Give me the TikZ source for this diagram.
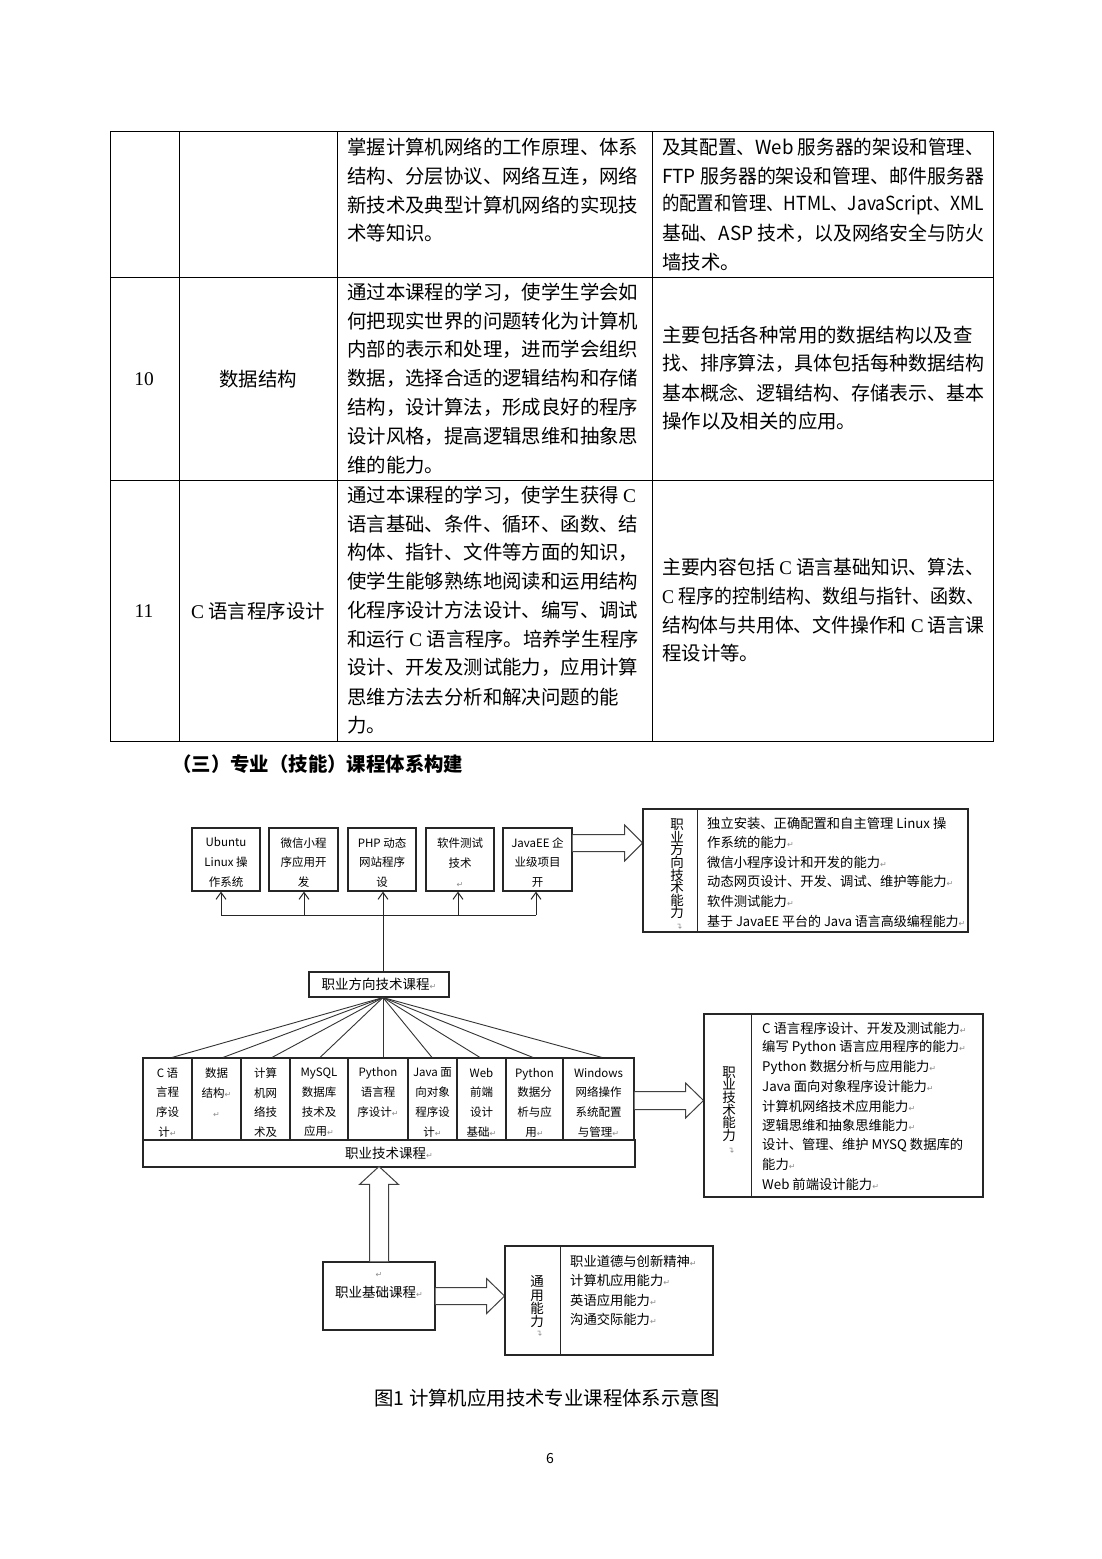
\documentclass[tikz,border=0pt]{standalone}
\usepackage{fontspec}
\usepackage{graphicx}
\setmainfont{Noto Sans CJK SC}
\newfontfamily\lserif{Liberation Serif}
\newfontfamily\dejavu{DejaVu Sans}
\usetikzlibrary{arrows.meta}
\newsavebox\fitbox
\newcommand\fitline[2]{\sbox\fitbox{#2}\ifdim\wd\fitbox>#1\relax\resizebox{#1}{\height}{\usebox\fitbox}\else\usebox\fitbox\fi}
\newcommand\rmk{{\dejavu\fontsize{8}{8}\selectfont\color{black!45}↵}}
\newcommand\tightlines{\setlength{\lineskiplimit}{-100pt}\setlength{\lineskip}{0pt}}
\begin{document}
\begin{tikzpicture}[x=1pt,y=-1pt,
  tl/.style={draw=black,line width=0.95pt},
  ttxt/.style={anchor=west,inner sep=0pt,font=\fontsize{19.4}{19.4}\selectfont},
  tctr/.style={anchor=center,inner sep=0pt,font=\fontsize{19.4}{19.4}\selectfont},
  box/.style={draw=black!85,line width=1.1pt,inner sep=0pt},
  sm/.style={inner sep=0pt,align=center,font=\fontsize{11.5}{19.7}\selectfont},
  captxt/.style={anchor=west,inner sep=0pt,font=\fontsize{13.3}{13.3}\selectfont},
  vtxt/.style={inner sep=0pt,align=center,font=\fontsize{13.5}{12.6}\selectfont\tightlines},
  arr/.style={draw=black!85,line width=1pt,-{Straight Barb[length=7pt,width=10pt]}},
  ln/.style={draw=black!85,line width=1pt},
  fan/.style={draw=black!80,line width=0.9pt},
  blk/.style={draw=black!75,line width=1pt,fill=white,line join=miter}]
\useasboundingbox[fill=white] (0,0) rectangle (1102,1559);

% ---------------- table ----------------
\draw[tl] (110,131) rectangle (993,741);
\foreach \yy in {277,480} \draw[tl] (110,\yy) -- (993,\yy);
\foreach \xx in {179,337,652} \draw[tl] (\xx,131) -- (\xx,741);

\foreach \t [count=\i] in {
 {掌握计算机网络的工作原理、体系},
 {结构、分层协议、网络互连，网络},
 {新技术及典型计算机网络的实现技},
 {术等知识。}}
 \node[ttxt] (ra-\i) at (347,{147+28.8*(\i-1)}) {\fitline{292pt}{\t}};
\foreach \t [count=\i] in {
 {及其配置、Web 服务器的架设和管理、},
 {FTP 服务器的架设和管理、邮件服务器},
 {的配置和管理、HTML、JavaScript、XML},
 {基础、ASP 技术，以及网络安全与防火},
 {墙技术。}}
 \node[ttxt] (rb-\i) at (662,{147+28.8*(\i-1)}) {\fitline{322pt}{\t}};

\node[tctr,font=\lserif\fontsize{19.4}{19.4}\selectfont] (n10) at (144,379) {10};
\node[tctr] (s10) at (258,379) {数据结构};
\foreach \t [count=\i] in {
 {通过本课程的学习，使学生学会如},
 {何把现实世界的问题转化为计算机},
 {内部的表示和处理，进而学会组织},
 {数据，选择合适的逻辑结构和存储},
 {结构，设计算法，形成良好的程序},
 {设计风格，提高逻辑思维和抽象思},
 {维的能力。}}
 \node[ttxt] (rc-\i) at (347,{292+28.8*(\i-1)}) {\fitline{292pt}{\t}};
\foreach \t [count=\i] in {
 {主要包括各种常用的数据结构以及查},
 {找、排序算法，具体包括每种数据结构},
 {基本概念、逻辑结构、存储表示、基本},
 {操作以及相关的应用。}}
 \node[ttxt] (rd-\i) at (662,{335+28.8*(\i-1)}) {\fitline{322pt}{\t}};

\node[tctr,font=\lserif\fontsize{19.4}{19.4}\selectfont] (n11) at (144,611) {11};
\node[tctr] (s11) at (258,611) {{\lserif C} 语言程序设计};
\foreach \t [count=\i] in {
 {通过本课程的学习，使学生获得 {\lserif C}},
 {语言基础、条件、循环、函数、结},
 {构体、指针、文件等方面的知识，},
 {使学生能够熟练地阅读和运用结构},
 {化程序设计方法设计、编写、调试},
 {和运行 {\lserif C} 语言程序。培养学生程序},
 {设计、开发及测试能力，应用计算},
 {思维方法去分析和解决问题的能},
 {力。}}
 \node[ttxt] (re-\i) at (347,{495+28.8*(\i-1)}) {\fitline{292pt}{\t}};
\foreach \t [count=\i] in {
 {主要内容包括 {\lserif C} 语言基础知识、算法、},
 {{\lserif C} 程序的控制结构、数组与指针、函数、},
 {结构体与共用体、文件操作和 {\lserif C} 语言课},
 {程设计等。}}
 \node[ttxt] (rf-\i) at (662,{567+28.8*(\i-1)}) {\fitline{322pt}{\t}};

\node[ttxt,font=\bfseries\fontsize{19.4}{19.4}\selectfont] (head) at (172,764) {（三）专业（技能）课程体系构建};

% ---------------- diagram: top ----------------
\node[box,minimum width=68pt,minimum height=63pt] (u1) at (226,859.5) {};
\node[box,minimum width=69pt,minimum height=63pt] (u2) at (303.5,859.5) {};
\node[box,minimum width=68pt,minimum height=63pt] (u3) at (382,859.5) {};
\node[box,minimum width=68pt,minimum height=63pt] (u4) at (460,859.5) {};
\node[box,minimum width=69pt,minimum height=63pt] (u5) at (537.5,859.5) {};
\node[sm] (u1t) at (226,862.5) {Ubuntu\\Linux 操\\作系统};
\node[sm] (u2t) at (303.5,862.5) {微信小程\\序应用开\\发};
\node[sm] (u3t) at (382,862.5) {PHP 动态\\网站程序\\设};
\node[sm] (u4t) at (460,862.5) {软件测试\\技术\\\rmk};
\node[sm] (u5t) at (537.5,862.5) {JavaEE 企\\业级项目\\开};

\node[box,minimum width=140pt,minimum height=25pt,font=\fontsize{13.5}{13.5}\selectfont] (vb) at (379,984.5) {职业方向技术课程\rmk};

\coordinate (a1) at (221,915);
\coordinate (a2) at (304,915);
\coordinate (a3) at (383,915);
\coordinate (a4) at (458,915);
\coordinate (a5) at (536,915);
\draw[ln] (a1) -- (a5);
\draw[ln] ([xshift=4pt]vb.north) -- (a3);
\foreach \k in {1,...,5} \draw[arr] (a\k) -- (a\k |- u1.south);

\draw[blk] ([yshift=25pt]u5.east) -- ++(52,0) -- ++(0,-9.5) -- ++(18,18) -- ++(-18,18) -- ++(0,-9.5) -- ++(-52,0);

\node[box,minimum width=325pt,minimum height=123pt] (dr) at (805.5,870.5) {};
\draw[box] ([xshift=55pt]dr.north west) -- ([xshift=55pt]dr.south west);
\node[vtxt] (drv) at (677,869) {职\\业\\方\\向\\技\\术\\能\\力};
\node[inner sep=0pt,rotate=90] (drm) at (680,926) {\rmk};
\foreach \t [count=\i] in {
 {独立安装、正确配置和自主管理 Linux 操},
 {作系统的能力\rmk},
 {微信小程序设计和开发的能力\rmk},
 {动态网页设计、开发、调试、维护等能力\rmk},
 {软件测试能力\rmk},
 {基于 JavaEE 平台的 Java 语言高级编程能力\rmk}}
 \node[captxt] (drl-\i) at (707,{823+19.6*(\i-1)}) {\fitline{258pt}{\t}};

% ---------------- diagram: middle ----------------
\node[box,minimum width=492pt,minimum height=27pt,font=\fontsize{13.5}{13.5}\selectfont] (tc) at (389,1153.5) {职业技术课程\rmk};
\node[box,minimum width=49pt,minimum height=82pt] (m1) at (167.5,1099) {};
\node[box,minimum width=49pt,minimum height=82pt] (m2) at (216.5,1099) {};
\node[box,minimum width=49pt,minimum height=82pt] (m3) at (265.5,1099) {};
\node[box,minimum width=58pt,minimum height=82pt] (m4) at (319,1099) {};
\node[box,minimum width=60pt,minimum height=82pt] (m5) at (378,1099) {};
\node[box,minimum width=49pt,minimum height=82pt] (m6) at (432.5,1099) {};
\node[box,minimum width=49pt,minimum height=82pt] (m7) at (481.5,1099) {};
\node[box,minimum width=57pt,minimum height=82pt] (m8) at (534.5,1099) {};
\node[box,minimum width=71pt,minimum height=82pt] (m9) at (598.5,1099) {};
\node[sm] (m1t) at (167.5,1102.5) {C 语\\言程\\序设\\计\rmk};
\node[sm] (m2t) at (216.5,1092.5) {数据\\结构\rmk\\\rmk};
\node[sm] (m3t) at (265.5,1102.5) {计算\\机网\\络技\\术及};
\node[sm] (m4t) at (319,1102.5) {MySQL\\数据库\\技术及\\应用\rmk};
\node[sm] (m5t) at (378,1092.5) {Python\\语言程\\序设计\rmk};
\node[sm] (m6t) at (432.5,1102.5) {Java 面\\向对象\\程序设\\计\rmk};
\node[sm] (m7t) at (481.5,1102.5) {Web\\前端\\设计\\基础\rmk};
\node[sm] (m8t) at (534.5,1102.5) {Python\\数据分\\析与应\\用\rmk};
\node[sm] (m9t) at (598.5,1102.5) {Windows\\网络操作\\系统配置\\与管理\rmk};

\coordinate (apex) at ([xshift=4pt]vb.south);
\foreach \k/\dx in {1/4.5,2/6.5,3/6.5,4/1,5/5,6/-0.5,7/-1.5,8/-1.5,9/3.5}
  \draw[fan] (apex) -- ([xshift=\dx pt]m\k.north);

\draw[blk] ([yshift=7.5pt]m9.east) -- ++(51,0) -- ++(0,-8.5) -- ++(18,17.5) -- ++(-18,17.5) -- ++(0,-8.5) -- ++(-51,0);

\node[box,minimum width=279pt,minimum height=183pt] (cr) at (843.5,1105.5) {};
\draw[box] ([xshift=48pt]cr.north west) -- ([xshift=48pt]cr.south west);
\node[vtxt] (crv) at (729,1104) {职\\业\\技\\术\\能\\力};
\node[inner sep=0pt,rotate=90] (crm) at (732,1150) {\rmk};
\foreach \t [count=\i] in {
 {C 语言程序设计、开发及测试能力\rmk},
 {编写 Python 语言应用程序的能力\rmk},
 {Python 数据分析与应用能力\rmk},
 {Java 面向对象程序设计能力\rmk},
 {计算机网络技术应用能力\rmk},
 {逻辑思维和抽象思维能力\rmk},
 {设计、管理、维护 MYSQ 数据库的},
 {能力\rmk},
 {Web 前端设计能力\rmk}}
 \node[captxt] (crl-\i) at (762,{1028+19.5*(\i-1)}) {\fitline{216pt}{\t}};

% ---------------- diagram: bottom ----------------
\node[box,minimum width=112pt,minimum height=68pt] (fb) at (379,1296) {};
\node[inner sep=0pt,align=center,font=\fontsize{13.5}{19.5}\selectfont] (fbt) at (379,1285.5) {\rmk\\职业基础课程\rmk};
\draw[blk] ([xshift=-9.5pt]fb.north) -- ++(0,-77) -- ++(-10,0) -- ++(19.5,-18) -- ++(19.5,18) -- ++(-10,0) -- ++(0,77);
\draw[blk] ([yshift=8.5pt]fb.east) -- ++(51,0) -- ++(0,-9) -- ++(18,17.5) -- ++(-18,17.5) -- ++(0,-9) -- ++(-51,0);

\node[box,minimum width=208pt,minimum height=109pt] (gb) at (609,1300.5) {};
\draw[box] ([xshift=56pt]gb.north west) -- ([xshift=56pt]gb.south west);
\node[vtxt,font=\fontsize{13.5}{13.3}\selectfont\tightlines] (gbv) at (537,1302) {通\\用\\能\\力};
\node[inner sep=0pt,rotate=90] (gbm) at (540,1333) {\rmk};
\foreach \t [count=\i] in {
 {职业道德与创新精神\rmk},
 {计算机应用能力\rmk},
 {英语应用能力\rmk},
 {沟通交际能力\rmk}}
 \node[captxt] (gbl-\i) at (570,{1261+19.6*(\i-1)}) {\t};

\node[inner sep=0pt,font=\fontsize{19.4}{19.4}\selectfont] (cap) at (547,1398) {图1 计算机应用技术专业课程体系示意图};
\node[inner sep=0pt,font=\fontsize{14}{14}\selectfont] (pg) at (550,1458) {6};
\end{tikzpicture}
\end{document}
